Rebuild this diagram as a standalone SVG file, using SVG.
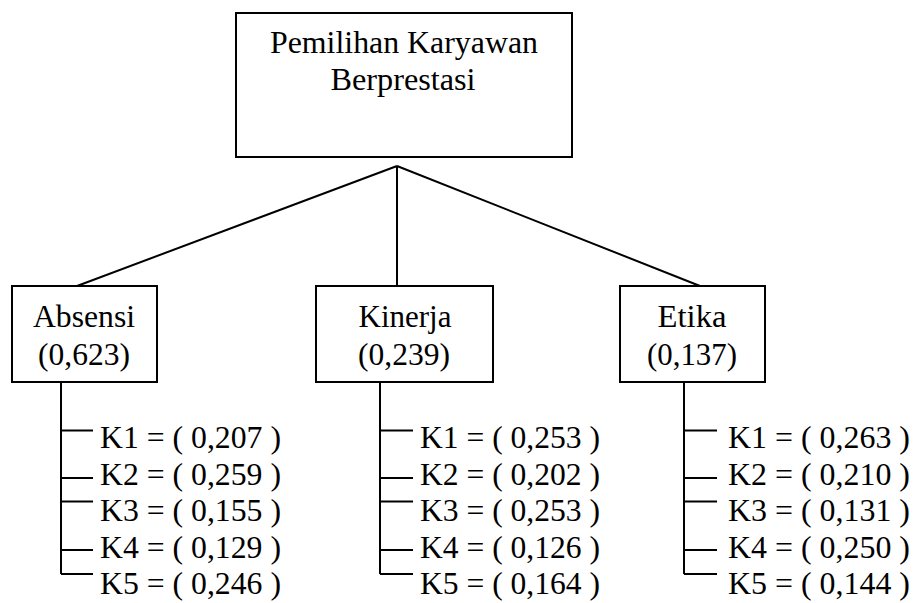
<svg xmlns="http://www.w3.org/2000/svg" width="918" height="603" viewBox="0 0 918 603">
  <rect width="918" height="603" fill="#ffffff"/>

  <!-- connectors: goal to criteria, criteria to sub-criteria -->
  <g id="connectors" fill="none" stroke="#000000" stroke-width="2">
    <path d="M397,166 L77,286 M397,166 L397,286 M397,166 L700,286"/>
    <path d="M61,382 V574 M61,430.5 H93 M61,478 H93 M61,501.5 H93 M61,550 H93 M61,574 H93"/>
    <path d="M380,382 V574 M380,430.5 H413 M380,478 H413 M380,501.5 H413 M380,550 H413 M380,574 H413"/>
    <path d="M684,382 V574 M684,430.5 H717 M684,478 H717 M684,501.5 H717 M684,550 H717 M684,574 H717"/>
  </g>

  <!-- node boxes -->
  <g fill="#ffffff" stroke="#000000" stroke-width="2">
    <rect id="goal-box" x="236" y="13" width="336" height="144"/>
    <rect id="absensi-box" x="12" y="286" width="145" height="96"/>
    <rect id="kinerja-box" x="316" y="286" width="177" height="96"/>
    <rect id="etika-box" x="620" y="286" width="145" height="96"/>
  </g>

  <g font-family="Liberation Serif" font-size="31" fill="#000000">
    <g id="goal" text-anchor="middle">
      <text x="404" y="53" textLength="268" lengthAdjust="spacingAndGlyphs">Pemilihan Karyawan</text>
      <text x="403" y="90" textLength="145" lengthAdjust="spacingAndGlyphs">Berprestasi</text>
    </g>

    <g id="absensi" text-anchor="middle">
      <text x="84" y="327" textLength="102" lengthAdjust="spacingAndGlyphs">Absensi</text>
      <text x="84" y="365" textLength="92" lengthAdjust="spacingAndGlyphs">(0,623)</text>
    </g>

    <g id="kinerja" text-anchor="middle">
      <text x="405" y="327" textLength="93" lengthAdjust="spacingAndGlyphs">Kinerja</text>
      <text x="404" y="365" textLength="92" lengthAdjust="spacingAndGlyphs">(0,239)</text>
    </g>

    <g id="etika" text-anchor="middle">
      <text x="692" y="327" textLength="69" lengthAdjust="spacingAndGlyphs">Etika</text>
      <text x="692" y="365" textLength="90" lengthAdjust="spacingAndGlyphs">(0,137)</text>
    </g>

    <g id="absensi-items">
      <text x="100" y="448" textLength="181" lengthAdjust="spacingAndGlyphs">K1 = ( 0,207 )</text>
      <text x="100" y="484.5" textLength="181" lengthAdjust="spacingAndGlyphs">K2 = ( 0,259 )</text>
      <text x="100" y="521" textLength="181" lengthAdjust="spacingAndGlyphs">K3 = ( 0,155 )</text>
      <text x="100" y="557.5" textLength="181" lengthAdjust="spacingAndGlyphs">K4 = ( 0,129 )</text>
      <text x="100" y="594" textLength="181" lengthAdjust="spacingAndGlyphs">K5 = ( 0,246 )</text>
    </g>

    <g id="kinerja-items">
      <text x="420" y="448" textLength="180" lengthAdjust="spacingAndGlyphs">K1 = ( 0,253 )</text>
      <text x="420" y="484.5" textLength="180" lengthAdjust="spacingAndGlyphs">K2 = ( 0,202 )</text>
      <text x="420" y="521" textLength="180" lengthAdjust="spacingAndGlyphs">K3 = ( 0,253 )</text>
      <text x="420" y="557.5" textLength="180" lengthAdjust="spacingAndGlyphs">K4 = ( 0,126 )</text>
      <text x="420" y="594" textLength="180" lengthAdjust="spacingAndGlyphs">K5 = ( 0,164 )</text>
    </g>

    <g id="etika-items">
      <text x="728" y="448" textLength="182" lengthAdjust="spacingAndGlyphs">K1 = ( 0,263 )</text>
      <text x="728" y="484.5" textLength="182" lengthAdjust="spacingAndGlyphs">K2 = ( 0,210 )</text>
      <text x="728" y="521" textLength="182" lengthAdjust="spacingAndGlyphs">K3 = ( 0,131 )</text>
      <text x="728" y="557.5" textLength="182" lengthAdjust="spacingAndGlyphs">K4 = ( 0,250 )</text>
      <text x="728" y="594" textLength="182" lengthAdjust="spacingAndGlyphs">K5 = ( 0,144 )</text>
    </g>
  </g>
</svg>
